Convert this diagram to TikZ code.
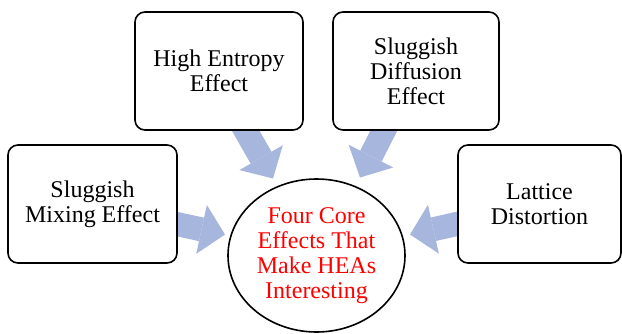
\documentclass[tikz,border=0pt]{standalone}
\usepackage{fontspec}
\setmainfont{Liberation Serif}
\usetikzlibrary{arrows.meta,calc,backgrounds,shapes.geometric}
\definecolor{arrowblue}{RGB}{166,182,221}
\definecolor{corered}{RGB}{255,0,0}
\begin{document}
\begin{tikzpicture}[x=1pt,y=-1pt,
  effbox/.style={draw=black, line width=1.6pt, rounded corners=10pt, fill=white,
    minimum height=118pt, align=center, inner sep=0pt,
    font=\fontsize{24}{25}\selectfont},
  coreell/.style={ellipse, draw=black, line width=1.6pt, fill=white,
    minimum width=177pt, minimum height=153pt, inner sep=0pt, align=center,
    text=corered, font=\fontsize{24}{25}\selectfont},
  bigarrow/.style={draw=arrowblue, line width=24pt,
    -{Triangle[width=50pt,length=24pt,line width=0pt]}}]
\useasboundingbox (0,0) rectangle (622,333);
\node[effbox, minimum width=169pt] (mix) at (92.5,204) {Sluggish\\Mixing Effect};
\node[effbox, minimum width=168pt] (he) at (219,71) {High Entropy\\Effect};
\node[effbox, minimum width=166pt] (diff) at (416,71) {Sluggish\\Diffusion\\Effect};
\node[effbox, minimum width=163pt] (lat) at (539.5,204) {Lattice\\Distortion};
\node[coreell] (c) at (316.5,255.5) {Four Core\\Effects That\\Make HEAs\\Interesting};
\begin{scope}[on background layer]
\fill[white] (0,0) rectangle (622,333);
\draw[bigarrow] ($(he.south)+(17,-17)$) -- ($(c.center)+(-43.5,-77)$);
\draw[bigarrow] ($(mix.east)+(-19.5,16)$) -- ($(c.center)+(-91.5,-21)$);
\draw[bigarrow] ($(diff.south)+(-23.5,-17)$) -- ($(c.center)+(43.5,-78)$);
\draw[bigarrow] ($(lat.west)+(19.5,15.5)$) -- ($(c.center)+(93.5,-21)$);
\end{scope}
\end{tikzpicture}
\end{document}
